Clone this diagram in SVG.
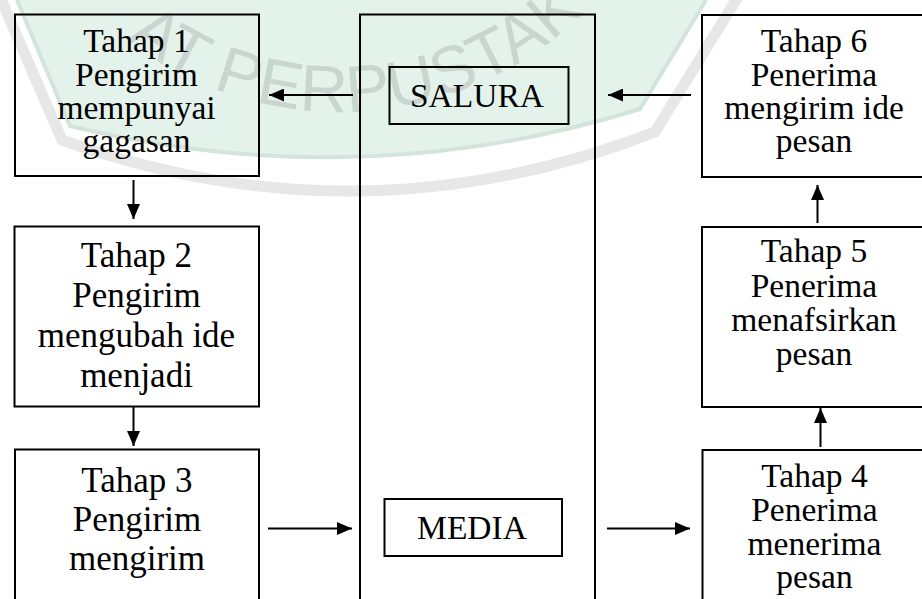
<svg xmlns="http://www.w3.org/2000/svg" width="922" height="599" viewBox="0 0 922 599">
  <defs>
    <marker id="arrowhead" markerUnits="userSpaceOnUse" markerWidth="15" markerHeight="13" refX="15" refY="6.5" orient="auto">
      <path d="M0,0 L15,6.5 L0,13 Z" fill="#000"/>
    </marker>
    <!-- lower rim of the seal, used as the baseline of its lettering -->
    <path id="seal-ring" d="M 60,-28 A 350,350 0 0 0 640,-58"/>
  </defs>
  <style>
    .box { fill: none; stroke: #000; stroke-width: 2; }
    .label { font-family: "Liberation Serif", "Times New Roman", serif; fill: #000; text-anchor: middle; }
    .sm { font-size: 33.5px; }
    .lg { font-size: 35px; }
    .conn { fill: none; stroke: #000; stroke-width: 2; marker-end: url(#arrowhead); }
    .seal-fill { fill: #e3f2ea; stroke: none; }
    .seal-edge { fill: none; stroke: #d3e5da; stroke-width: 4; }
    .seal-band { fill: none; stroke: #e7e7e7; stroke-width: 11; }
    .seal-text { font-family: "Liberation Sans", Arial, sans-serif; font-size: 66px; fill: #cbd5cf; }
  </style>

  <rect width="922" height="599" fill="#fff"/>

  <!-- faint library seal in the background -->
  <g id="seal">
    <path class="seal-fill" d="M 17,0 L 70,126 Q 360,196 640,109 L 706,0 Z"/>
    <path class="seal-edge" d="M 17,0 L 70,126 Q 360,196 640,109 L 706,0"/>
    <path class="seal-band" d="M -3,-10 L 62,140 Q 360,246 655,132 L 742,-10"/>
    <text class="seal-text"><textPath href="#seal-ring" startOffset="95" textLength="500" lengthAdjust="spacing">AT PERPUSTAK</textPath></text>
  </g>

  <!-- sender column -->
  <g id="tahap1">
    <rect class="box" x="15" y="14.5" width="244" height="161.5"/>
    <text class="label sm" x="136.5" y="52">Tahap 1</text>
    <text class="label sm" x="136.5" y="85.5">Pengirim</text>
    <text class="label sm" x="136.5" y="119">mempunyai</text>
    <text class="label sm" x="136.5" y="152">gagasan</text>
  </g>
  <g id="tahap2">
    <rect class="box" x="14.5" y="226.5" width="244.5" height="180"/>
    <text class="label lg" x="136.5" y="267">Tahap 2</text>
    <text class="label lg" x="136.5" y="307">Pengirim</text>
    <text class="label lg" x="136.5" y="347">mengubah ide</text>
    <text class="label lg" x="136.5" y="387">menjadi</text>
  </g>
  <g id="tahap3">
    <rect class="box" x="15" y="449.5" width="244" height="170"/>
    <text class="label lg" x="137" y="492">Tahap 3</text>
    <text class="label lg" x="137" y="531">Pengirim</text>
    <text class="label lg" x="137" y="570">mengirim</text>
  </g>

  <!-- channel column -->
  <g id="saluran">
    <rect class="box" x="360" y="14.5" width="235" height="620"/>
  </g>
  <g id="salura">
    <rect class="box" x="389.5" y="67" width="179" height="57"/>
    <text class="label sm" x="477" y="107">SALURA</text>
  </g>
  <g id="media">
    <rect class="box" x="384.5" y="499" width="177.5" height="57"/>
    <text class="label sm" x="472" y="539">MEDIA</text>
  </g>

  <!-- receiver column -->
  <g id="tahap6">
    <rect class="box" x="702" y="15" width="222" height="162"/>
    <text class="label sm" x="814" y="52">Tahap 6</text>
    <text class="label sm" x="814" y="86">Penerima</text>
    <text class="label sm" x="814" y="119">mengirim ide</text>
    <text class="label sm" x="814" y="152">pesan</text>
  </g>
  <g id="tahap5">
    <rect class="box" x="702" y="227" width="222" height="180"/>
    <text class="label sm" x="814" y="262">Tahap 5</text>
    <text class="label sm" x="814" y="297">Penerima</text>
    <text class="label sm" x="814" y="331">menafsirkan</text>
    <text class="label sm" x="814" y="365">pesan</text>
  </g>
  <g id="tahap4">
    <rect class="box" x="702.5" y="450" width="222" height="170"/>
    <text class="label sm" x="814.5" y="487">Tahap 4</text>
    <text class="label sm" x="814.5" y="521">Penerima</text>
    <text class="label sm" x="814.5" y="555">menerima</text>
    <text class="label sm" x="814.5" y="588">pesan</text>
  </g>

  <g id="connectors">
    <line class="conn" x1="133.5" y1="180" x2="133.5" y2="219"/>
    <line class="conn" x1="133.5" y1="407" x2="133.5" y2="446"/>
    <line class="conn" x1="268" y1="528.5" x2="352" y2="528.5"/>
    <line class="conn" x1="353" y1="95" x2="269" y2="95"/>
    <line class="conn" x1="691" y1="95" x2="608" y2="95"/>
    <line class="conn" x1="607" y1="528.5" x2="690" y2="528.5"/>
    <line class="conn" x1="820.5" y1="447" x2="820.5" y2="408"/>
    <line class="conn" x1="817.5" y1="223" x2="817.5" y2="185"/>
  </g>
</svg>
